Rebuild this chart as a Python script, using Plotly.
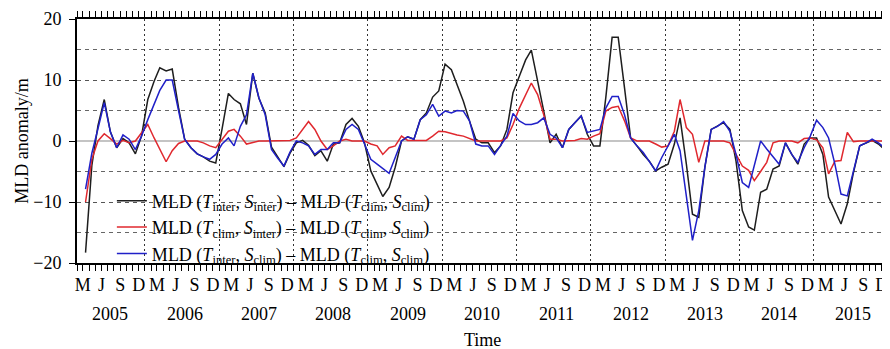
import pandas as pd
import plotly.graph_objects as go

# Monthly data, March 2005 - December 2015 (mid-month)
months = pd.date_range("2005-03-01", "2015-12-01", freq="MS") + pd.Timedelta(days=14)

mld_inter_inter = [
    -18.3, -4, 2.5, 6.8, 1.5, -1.1, 0.4, -0.3, -2.1, 0.8,
    6.8, 9.8, 12, 11.5, 11.8, 5.5, 0.3, -1.1, -2.1, -2.6,
    -3.3, -3.6, 2, 7.8, 6.8, 6.1, 2.7, 11.1, 7, 4.6,
    -1, -2.5, -4.2, -2, -0.3, 0.1, -0.7, -2.4, -1.6, -3.3,
    -0.5, -0.3, 2.7, 3.7, 2.4, -0.3, -4.9, -7.1, -9.1, -7.6,
    -4.3, 0, 0.7, 0.3, 3.5, 4.6, 7.2, 8.2, 12.6, 11.7,
    9.2, 6.5, 3.3, 0.3, -0.3, -0.3, -1.9, -0.8, 1.9, 7.9,
    10.6, 13.3, 14.9, 10, 4.9, -0.3, 1.1, -1.1, 1.9, 3,
    4.1, 1.1, -0.8, -0.8, 7.1, 17, 17, 8.7, 0.5, -0.8,
    -2.2, -3.3, -4.9, -4.3, -3.8, -0.5, 3.8, -3.8, -12, -12.5,
    -4.3, 1.9, 2.4, 3, 1.9, -3.3, -11.4, -14.1, -14.6, -8.4,
    -7.9, -4.6, -4.1, -0.3, -2.2, -3.8, -0.5, 0.5, 0.5, -2.2,
    -9.2, -11.4, -13.6, -10.3, -5.2, -0.8, -0.3, 0.1, -0.5, -1.4,
]

mld_clim_inter = [
    -10, -3, 0, 1.2, 0.4, -0.5, 0.1, -0.3, 0, 1.4,
    2.7, 0.5, -1.4, -3.4, -1.6, -0.4, 0, 0, 0, -0.3,
    -0.8, -1.1, 0.3, 1.6, 1.9, 0.8, -0.5, -0.3, 0, 0,
    0, 0, 0, 0.1, 0.5, 1.9, 3.2, 1.9, 0, -1.4,
    -0.8, 0, 0.3, 0, 0, 0, -0.5, -0.8, -2.2, -1.1,
    -0.8, 0.8, 0.1, 0.1, 0.1, 0.1, 0.8, 1.6, 1.5, 1.2,
    1, 0.8, 0.4, 0, 0, 0, 0, 0, 0.5, 2.7,
    5.4, 7.6, 9.5, 7.6, 4.3, 0.3, 0.3, 0, 0, 0.1,
    0.4, 0.3, 0.8, 1.2, 4.9, 5.5, 5.7, 3.3, 0.5, 0,
    0, 0, -0.5, -1, -0.8, 1.6, 6.8, 2.2, 1.1, -3.5,
    0, 0, 0, 0, -0.3, -2.2, -4.1, -4.8, -6.5, -5,
    -3.5, -0.3, 0, 0, 0, -0.3, 0.4, 0.5, 0.2, -1.1,
    -5.4, -3.3, -3.2, 1.4, -0.1, 0, 0, 0, 0, 0,
]

mld_inter_clim = [
    -7.9, -2, 2, 6.3, 1.5, -1.1, 1, 0.3, -1.4, 0.8,
    3.5, 6, 8.3, 10, 10, 5, 0.3, -1.1, -2.1, -2.6,
    -3, -2.2, -0.5, 0.5, -0.8, 2.4, 4.3, 11.1, 7.1, 4.3,
    -1.4, -2.8, -4.1, -1.8, 0, -0.3, -0.8, -2.2, -1.4, -1.4,
    -0.3, -0.3, 1.9, 2.7, 1.9, -0.5, -3, -3.8, -4.5, -5.3,
    -2.7, 0, 0.7, 0.3, 3.5, 4.3, 6, 4.1, 4.9, 4.6,
    5, 4.9, 3.3, -0.5, -0.8, -0.8, -2.2, -0.8, 0.8, 4.5,
    3.3, 2.7, 2.7, 3, 3.8, 1.1, 0.5, -1.1, 1.9, 3,
    4.1, 1.4, 1.6, 1.9, 5.4, 7.3, 7.3, 4.3, 0.5, -0.8,
    -1.9, -3.3, -4.9, -2.7, -0.8, 1.1, -1.6, -8.7, -16.3, -11.4,
    -4.3, 1.9, 2.4, 3.2, 1.6, -2.2, -6.8, -7.6, -4, 0,
    -1.3, -2.5, -3.8, -0.3, -2.2, -3.5, -1.1, 0.8, 3.4, 2.2,
    0.5, -3.8, -8.7, -9, -4.9, -0.8, -0.3, 0.3, -0.3, -1.1,
]

years = list(range(2005, 2016))
quarter_letters = ["M", "J", "S", "D"]
quarter_months = [3, 6, 9, 12]
tick_dates = [pd.Timestamp(y, m, 1) for y in years for m in quarter_months]
tick_text = [l for y in years for l in quarter_letters]
year_bounds = [pd.Timestamp(y, 1, 1) for y in years[1:]]
x_range = [pd.Timestamp(2005, 2, 1), pd.Timestamp(2016, 1, 1)]

labels = [
    "MLD (<i>T</i><sub>inter</sub>, <i>S</i><sub>inter</sub>) \u2013 MLD (<i>T</i><sub>clim</sub>, <i>S</i><sub>clim</sub>)",
    "MLD (<i>T</i><sub>clim</sub>, <i>S</i><sub>inter</sub>) \u2013 MLD (<i>T</i><sub>clim</sub>, <i>S</i><sub>clim</sub>)",
    "MLD (<i>T</i><sub>inter</sub>, <i>S</i><sub>clim</sub>) \u2013 MLD (<i>T</i><sub>clim</sub>, <i>S</i><sub>clim</sub>)",
]
colors = ["#1e1e1e", "#e0282e", "#2020c8"]
series = [mld_inter_inter, mld_clim_inter, mld_inter_clim]

FONT = "Liberation Serif, Times New Roman, serif"

fig = go.Figure()
for vals, name, col in zip(series, labels, colors):
    fig.add_trace(go.Scatter(x=months, y=vals, mode="lines", name=name,
                             line=dict(color=col, width=1.5)))
# helper trace for the year-boundary grid axis
fig.add_trace(go.Scatter(x=[months[0]], y=[None], xaxis="x2", showlegend=False,
                         hoverinfo="skip", mode="lines"))

for y in years:
    fig.add_annotation(x=pd.Timestamp(y, 7, 15), y=-0.207, xref="x", yref="paper",
                       text=str(y), showarrow=False, yanchor="middle",
                       font=dict(size=18, family=FONT, color="black"))
fig.add_annotation(x=0.5, y=-0.316, xref="paper", yref="paper", text="Time",
                   showarrow=False, yanchor="middle",
                   font=dict(size=18, family=FONT, color="black"))

# the page body adds an 8px offset, so the figure is sized to fit the window
fig.update_layout(
    width=882, height=341,
    margin=dict(l=69, r=2, t=11, b=86, autoexpand=False),
    paper_bgcolor="white", plot_bgcolor="white",
    font=dict(family=FONT, size=18, color="black"),
    showlegend=True,
    legend=dict(x=0.043, y=0.33, xanchor="left", yanchor="top",
                bgcolor="rgba(0,0,0,0)", font=dict(size=18, family=FONT),
                tracegroupgap=0, itemwidth=30),
    xaxis=dict(type="date", range=x_range, tickmode="array", automargin=False,
               tickvals=tick_dates, ticktext=tick_text,
               ticks="outside", ticklen=6, tickcolor="black", tickwidth=1,
               showgrid=False, zeroline=False,
               showline=True, linecolor="black", linewidth=2, mirror="allticks",
               tickfont=dict(size=18, family=FONT, color="black"),
               ticklabelstandoff=-2,
               minor=dict(dtick="M1", tick0="2005-02-01", ticks="outside",
                          ticklen=6, tickcolor="black", tickwidth=1, showgrid=False)),
    xaxis2=dict(type="date", overlaying="x", matches="x", range=x_range, automargin=False,
                tickmode="array", tickvals=year_bounds,
                showgrid=True, gridcolor="#333333", griddash="2px,3px", gridwidth=1,
                showticklabels=False, ticks="", showline=False, zeroline=False),
    yaxis=dict(range=[-20, 20], tickmode="array", tickvals=[-20, -10, 0, 10, 20],
               automargin=False,
               ticks="outside", ticklen=6, tickcolor="black",
               showline=True, linecolor="black", linewidth=2, mirror="ticks",
               showgrid=True, gridcolor="#555555", griddash="4px,4px", gridwidth=1,
               minor=dict(dtick=5, showgrid=True, gridcolor="#666666",
                          griddash="4px,4px", gridwidth=1),
               zeroline=True, zerolinecolor="#c4c4c4", zerolinewidth=1.5,
               tickfont=dict(size=18, family=FONT, color="black"),
               ticklabelstandoff=4,
               title=dict(text="MLD anomaly/m", standoff=0,
                          font=dict(size=18, family=FONT, color="black"))),
)

fig.write_html("out.html")
